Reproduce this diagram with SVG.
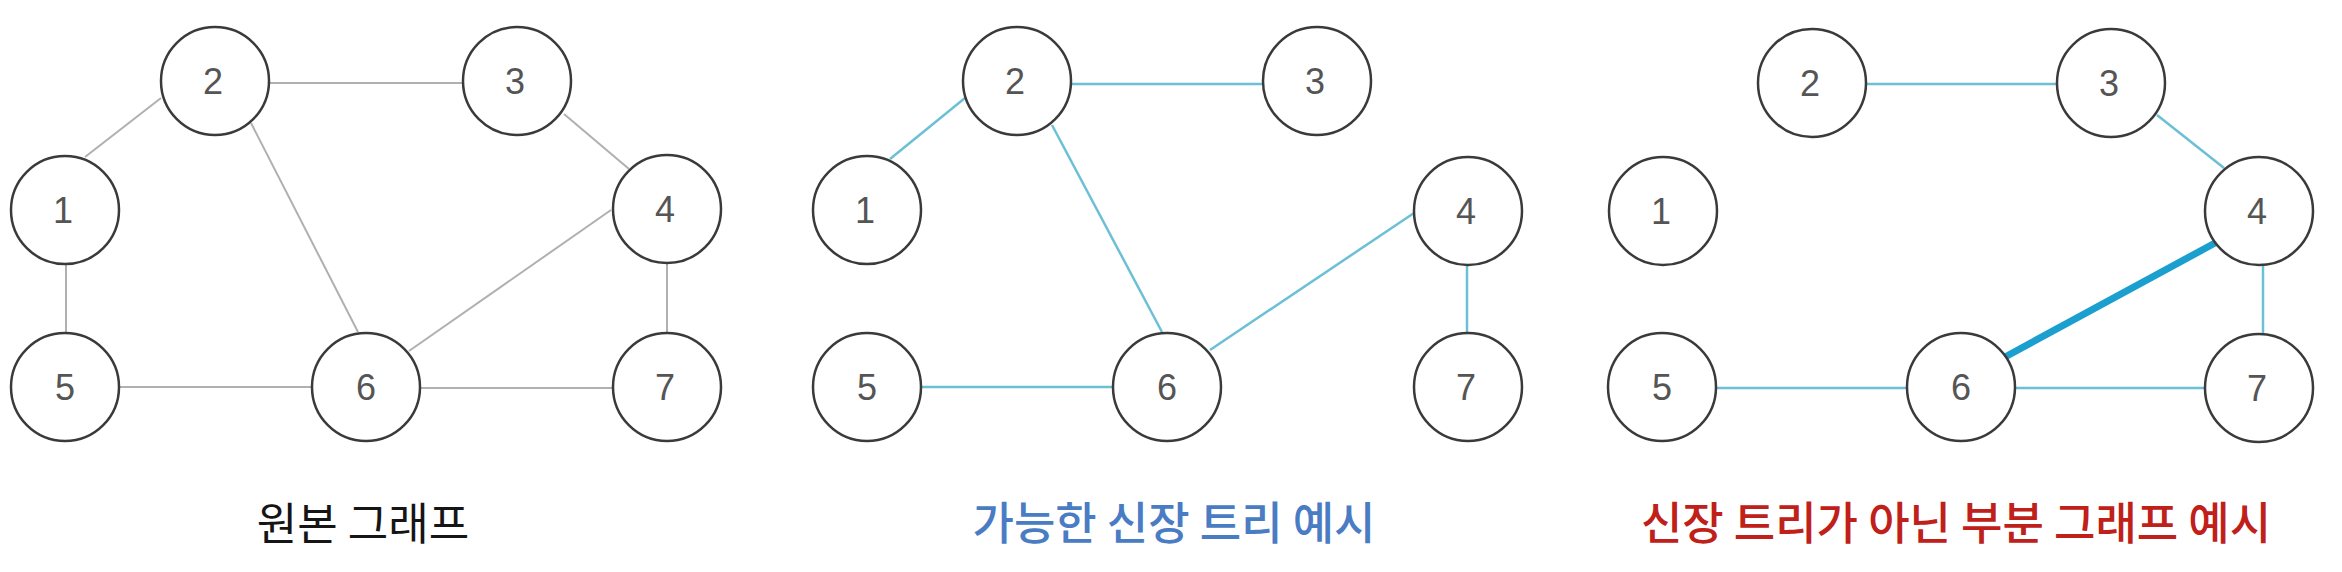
<svg xmlns="http://www.w3.org/2000/svg" width="2342" height="572" viewBox="0 0 2342 572">
<style>
.n circle{fill:#fff;stroke:#3a3a3a;stroke-width:2.5}
.n text{font-family:"Liberation Sans","DejaVu Sans",sans-serif;font-size:36px;fill:#555;text-anchor:middle}
.g line{stroke:#b0b0b0;stroke-width:2}
.b line{stroke:#6cc0d6;stroke-width:2.5}
.b line.thick{stroke:#1a9fce;stroke-width:7}
.lbl{font-family:"Noto Sans CJK KR","Noto Sans",sans-serif;text-anchor:middle}
</style>
<rect width="2342" height="572" fill="#fff"/>
<g id="connectors">
<g class="g">
<line x1="85" y1="157" x2="161" y2="98"/>
<line x1="270" y1="83" x2="462" y2="83"/>
<line x1="564" y1="114" x2="629" y2="169"/>
<line x1="251" y1="123" x2="358" y2="332"/>
<line x1="66" y1="263" x2="66" y2="333"/>
<line x1="667" y1="263" x2="667" y2="333"/>
<line x1="119" y1="387" x2="313" y2="387"/>
<line x1="420" y1="388" x2="613" y2="388"/>
<line x1="611" y1="210" x2="409" y2="351"/>
</g>
<g class="b">
<line x1="890" y1="159" x2="965" y2="98"/>
<line x1="1071" y1="84" x2="1264" y2="84"/>
<line x1="1052" y1="125" x2="1162" y2="332"/>
<line x1="1210" y1="350" x2="1414" y2="213"/>
<line x1="1467" y1="263" x2="1467" y2="335"/>
<line x1="921" y1="387" x2="1114" y2="387"/>
</g>
<g class="b">
<line x1="1865" y1="84" x2="2059" y2="84"/>
<line x1="2157" y1="115" x2="2224" y2="168"/>
<line x1="2263" y1="263" x2="2263" y2="335"/>
<line x1="1715" y1="388" x2="1909" y2="388"/>
<line x1="2013" y1="388" x2="2207" y2="388"/>
<line class="thick" x1="2215" y1="243" x2="2005" y2="357"/>
</g>
</g>
<g id="p1-n1" class="n"><circle cx="65" cy="210" r="54"/><text x="63" y="223">1</text></g>
<g id="p1-n2" class="n"><circle cx="215" cy="81" r="54"/><text x="213" y="94">2</text></g>
<g id="p1-n3" class="n"><circle cx="517" cy="81" r="54"/><text x="515" y="94">3</text></g>
<g id="p1-n4" class="n"><circle cx="667" cy="209" r="54"/><text x="665" y="222">4</text></g>
<g id="p1-n5" class="n"><circle cx="65" cy="387" r="54"/><text x="65" y="400">5</text></g>
<g id="p1-n6" class="n"><circle cx="366" cy="387" r="54"/><text x="366" y="400">6</text></g>
<g id="p1-n7" class="n"><circle cx="667" cy="387" r="54"/><text x="665" y="400">7</text></g>

<g id="p2-n1" class="n"><circle cx="867" cy="210" r="54"/><text x="865" y="223">1</text></g>
<g id="p2-n2" class="n"><circle cx="1017" cy="81" r="54"/><text x="1015" y="94">2</text></g>
<g id="p2-n3" class="n"><circle cx="1317" cy="81" r="54"/><text x="1315" y="94">3</text></g>
<g id="p2-n4" class="n"><circle cx="1468" cy="211" r="54"/><text x="1466" y="224">4</text></g>
<g id="p2-n5" class="n"><circle cx="867" cy="387" r="54"/><text x="867" y="400">5</text></g>
<g id="p2-n6" class="n"><circle cx="1167" cy="387" r="54"/><text x="1167" y="400">6</text></g>
<g id="p2-n7" class="n"><circle cx="1468" cy="387" r="54"/><text x="1466" y="400">7</text></g>

<g id="p3-n1" class="n"><circle cx="1663" cy="211" r="54"/><text x="1661" y="224">1</text></g>
<g id="p3-n2" class="n"><circle cx="1812" cy="83" r="54"/><text x="1810" y="96">2</text></g>
<g id="p3-n3" class="n"><circle cx="2111" cy="83" r="54"/><text x="2109" y="96">3</text></g>
<g id="p3-n4" class="n"><circle cx="2259" cy="211" r="54"/><text x="2257" y="224">4</text></g>
<g id="p3-n5" class="n"><circle cx="1662" cy="387" r="54"/><text x="1662" y="400">5</text></g>
<g id="p3-n6" class="n"><circle cx="1961" cy="387" r="54"/><text x="1961" y="400">6</text></g>
<g id="p3-n7" class="n"><circle cx="2259" cy="388" r="54"/><text x="2257" y="401">7</text></g>

<text class="lbl" x="363" y="540" fill="#151515" font-size="44">원본 그래프</text>
<text class="lbl" x="1174" y="540" fill="#4a7cc4" font-size="45" font-weight="500">가능한 신장 트리 예시</text>
<text class="lbl" x="1956" y="540" fill="#c0201a" font-size="45" font-weight="500">신장 트리가 아닌 부분 그래프 예시</text>
</svg>
